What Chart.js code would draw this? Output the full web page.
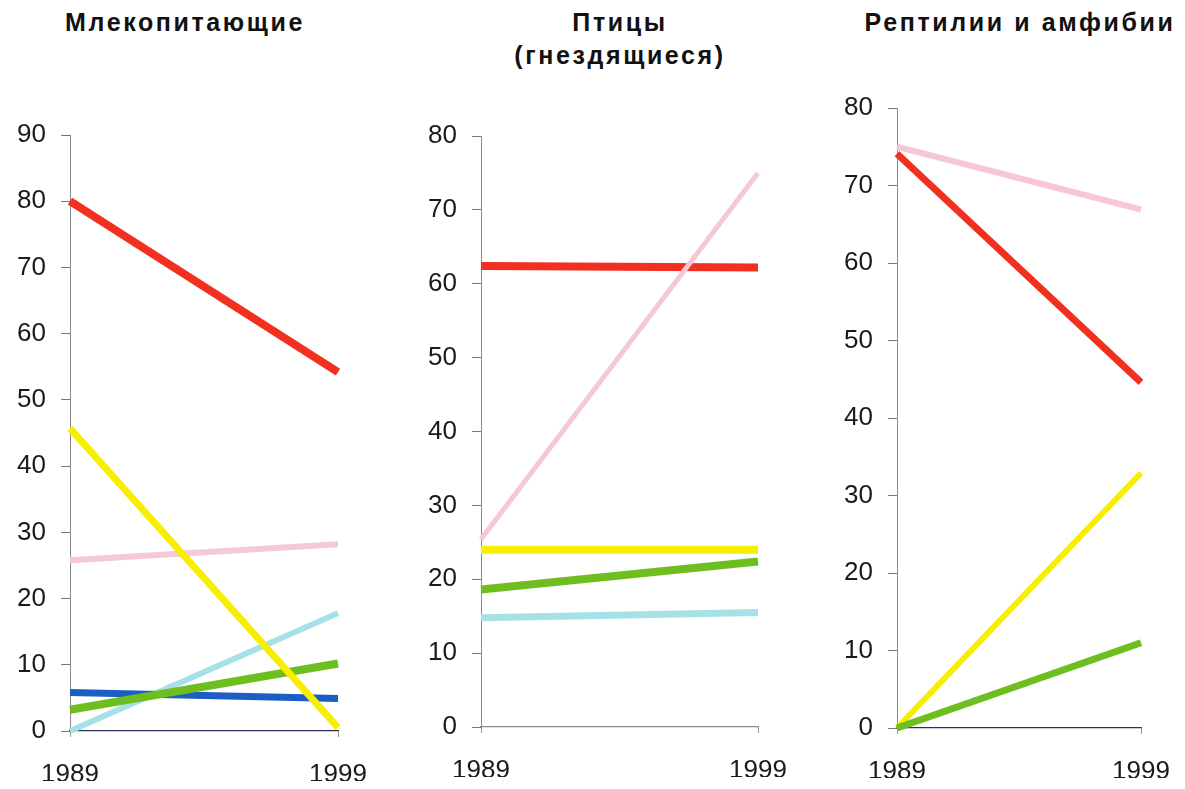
<!DOCTYPE html>
<html>
<head>
<meta charset="utf-8">
<script src="https://cdn.jsdelivr.net/npm/chart.js@4.4.1/dist/chart.umd.min.js"></script>
<style>
  body { margin: 0; background: #fff; width: 1185px; height: 789px; position: relative; overflow: hidden; }
  .title {
    position: absolute; text-align: center; color: #111;
    font: bold 25px "Liberation Sans", Arial, sans-serif;
    letter-spacing: 2.6px; line-height: 33px; white-space: nowrap;
  }
  canvas { position: absolute; top: 0; }
</style>
</head>
<body>
<div class="title" style="left:35px; width:300px; top:6px;">Млекопитающие</div>
<div class="title" style="left:470px; width:300px; top:6px;">Птицы<br>(гнездящиеся)</div>
<div class="title" style="left:860px; width:320px; top:6px;">Рептилии и амфибии</div>

<canvas id="mammals" style="left:0px" width="380" height="789"></canvas>
<canvas id="birds" style="left:390px" width="410" height="789"></canvas>
<canvas id="reptiles" style="left:810px" width="375" height="789"></canvas>

<script>
const years = ['1989', '1999'];

// Млекопитающие
const mamRed = [80, 54.2];
const mamYellow = [45.7, 0.5];
const mamPink = [25.8, 28.2];
const mamCyan = [0, 17.8];
const mamGreen = [3.2, 10.2];
const mamBlue = [5.8, 4.9];

// Птицы (гнездящиеся)
const birdRed = [62.4, 62.2];
const birdPink = [25.4, 75];
const birdYellow = [24, 24];
const birdGreen = [18.6, 22.4];
const birdCyan = [14.8, 15.5];

// Рептилии и амфибии
const repPink = [75, 66.9];
const repRed = [74.1, 44.6];
const repYellow = [0, 32.9];
const repGreen = [0, 11];

const RED = '#f1301f';
const YELLOW = '#f7ee00';
const PINK = '#f6c7d5';
const CYAN = '#a7e1e8';
const GREEN = '#6dbe1e';
const BLUE = '#1d5ec4';

const fontFamily = '"Liberation Sans", Arial, sans-serif';

function line(data, color, width) {
    return {
        data: data,
        borderColor: color,
        borderWidth: width,
        pointRadius: 0,
        tension: 0,
        clip: false,
        borderCapStyle: 'butt'
    };
}

function drawChart(id, datasets, maxY, pad, xBorder) {
    new Chart(document.getElementById(id), {
        type: 'line',
        data: { labels: years, datasets: datasets },
        options: {
            responsive: false,
            animation: false,
            events: [],
            layout: { padding: pad },
            plugins: { legend: { display: false }, tooltip: { enabled: false } },
            scales: {
                x: {
                    offset: false,
                    // fixed height, and no extra side padding for the end labels
                    afterFit: s => { s.height = 50; s.paddingLeft = 0; s.paddingRight = 0; },
                    border: { color: xBorder, width: 1.2 },
                    grid: { drawOnChartArea: false, tickLength: 6, color: '#999' },
                    ticks: { padding: 22, maxRotation: 0, color: '#1a1a1a', font: { size: 26, family: fontFamily } }
                },
                y: {
                    min: 0,
                    max: maxY,
                    afterFit: s => { s.width = 60; },
                    border: { color: '#8a8a8a', width: 1 },
                    grid: { drawOnChartArea: false, tickLength: 9, color: '#777' },
                    ticks: { stepSize: 10, padding: 15, color: '#1a1a1a', font: { size: 26, family: fontFamily } }
                }
            }
        }
    });
}

// first dataset in each list is drawn on top
drawChart('mammals', [
    line(mamRed, RED, 8),
    line(mamYellow, YELLOW, 7),
    line(mamGreen, GREEN, 8),
    line(mamBlue, BLUE, 7),
    line(mamCyan, CYAN, 6),
    line(mamPink, PINK, 6)
], 90, { left: 10, right: 42, top: 135, bottom: 8 }, '#2a2f5c');

drawChart('birds', [
    line(birdPink, PINK, 5),
    line(birdRed, RED, 8),
    line(birdYellow, YELLOW, 8),
    line(birdGreen, GREEN, 8),
    line(birdCyan, CYAN, 7)
], 80, { left: 31, right: 42, top: 136, bottom: 12 }, '#8a8a8a');

drawChart('reptiles', [
    line(repRed, RED, 7),
    line(repPink, PINK, 6),
    line(repGreen, GREEN, 7),
    line(repYellow, YELLOW, 6)
], 80, { left: 27, right: 44, top: 108, bottom: 11 }, '#2a2f5c');
</script>
</body>
</html>
